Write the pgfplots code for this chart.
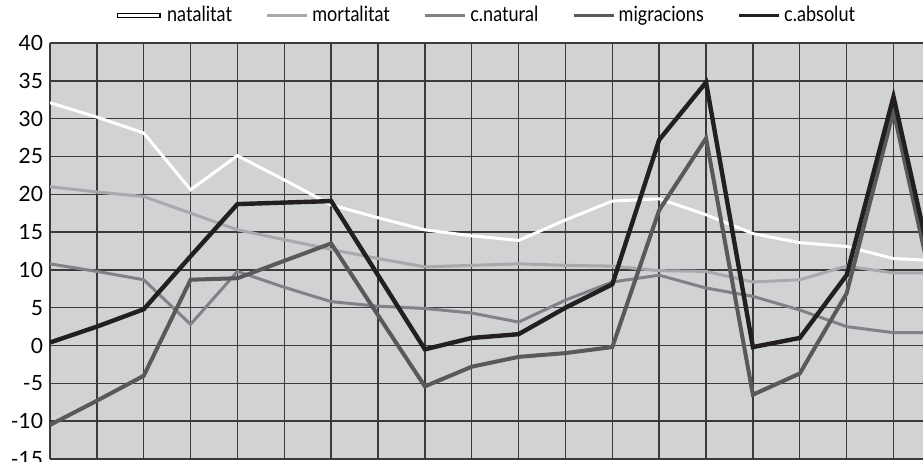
\documentclass[border=0pt]{standalone}
\usepackage{fontspec}
\setmainfont{Lato}
\newfontfamily\legfont{Lato}[FakeStretch=0.86]
\usepackage{pgfplots}
\pgfplotsset{compat=1.18}
\definecolor{bg}{HTML}{D1D2D4}
\definecolor{gridc}{HTML}{3A3A3A}
\definecolor{cmort}{HTML}{A7A9AC}
\definecolor{cnat}{HTML}{808285}
\definecolor{cmig}{HTML}{58595B}
\definecolor{cabs}{HTML}{231F20}
\begin{document}
\begin{tikzpicture}
\begin{axis}[name=ax, scale only axis, width=436.5pt, height=208pt,
  xmin=0, xmax=18.63, ymin=-15, ymax=40,
  xtick={0,1,...,19}, xticklabels={},
  ytick={-15,-10,...,40},
  grid=major, major grid style={color=gridc, line width=0.7pt},
  extra y ticks={0}, extra y tick labels={}, extra y tick style={grid style={color=gray!80, line width=0.8pt}},
  major tick length=0,
  axis background/.style={fill=bg},
  axis line style={draw=none},
  tick label style={font=\fontsize{10.5}{12}\selectfont},
  /pgf/number format/assume math mode=true,
  legend style={at={(0.5,1)}, anchor=south, yshift=5pt, draw=none, fill=none,
    font=\legfont\fontsize{10.5}{12}\selectfont,
    /tikz/every even column/.append style={column sep=15pt}},
  legend columns=-1,
  legend image code/.code={\draw[#1,line width=1.2pt] (0pt,0pt) -- (20pt,0pt);},
  clip=true]
\addplot[white, line width=1.5pt, legend image code/.code={\draw[black,line width=2.6pt] (0pt,0pt) -- (22pt,0pt); \draw[white,line width=1.5pt] (0.6pt,0pt) -- (21.4pt,0pt);}] coordinates {
(0,32.1) (1,30.2) (2,28.1) (3,20.6) (4,25.1) (5,21.9) (6,18.6) (7,16.9) (8,15.3) (9,14.5)
(10,13.9) (11,16.6) (12,19.1) (13,19.4) (14,17.3) (15,14.8) (16,13.6) (17,13.1) (18,11.5) (19,11.2)};
\addlegendentry{natalitat}
\addplot[cmort, line width=1.5pt] coordinates {
(0,21.0) (1,20.3) (2,19.7) (3,17.5) (4,15.3) (5,14.0) (6,12.7) (7,11.5) (8,10.4) (9,10.6)
(10,10.8) (11,10.6) (12,10.5) (13,9.9) (14,9.8) (15,8.4) (16,8.7) (17,10.5) (18,9.6) (19,9.6)};
\addlegendentry{mortalitat}
\addplot[cnat, line width=1.5pt] coordinates {
(0,10.8) (1,9.8) (2,8.7) (3,2.8) (4,9.8) (5,7.7) (6,5.8) (7,5.2) (8,4.9) (9,4.3)
(10,3.1) (11,6.0) (12,8.4) (13,9.3) (14,7.6) (15,6.5) (16,4.7) (17,2.5) (18,1.7) (19,1.7)};
\addlegendentry{c.natural}
\addplot[cmig, line width=2pt] coordinates {
(0,-10.5) (1,-7.3) (2,-4.0) (3,8.7) (4,8.9) (5,11.2) (6,13.5) (7,4.0) (8,-5.4) (9,-2.8)
(10,-1.5) (11,-1.0) (12,-0.2) (13,17.9) (14,27.4) (15,-6.5) (16,-3.7) (17,6.9) (18,31.0) (19,3.0)};
\addlegendentry{migracions}
\addplot[cabs, line width=2.2pt] coordinates {
(0,0.4) (1,2.5) (2,4.8) (3,11.8) (4,18.7) (5,18.9) (6,19.1) (7,9.3) (8,-0.5) (9,1.0)
(10,1.5) (11,5.0) (12,8.1) (13,27.2) (14,34.8) (15,-0.2) (16,1.0) (17,9.3) (18,32.9) (19,5.3)};
\addlegendentry{c.absolut}
\end{axis}
\pgfresetboundingbox
\path[use as bounding box] ([xshift=-25pt,yshift=-1.5pt]ax.south west) rectangle ([yshift=21.5pt]ax.north east);
\end{tikzpicture}
\end{document}
